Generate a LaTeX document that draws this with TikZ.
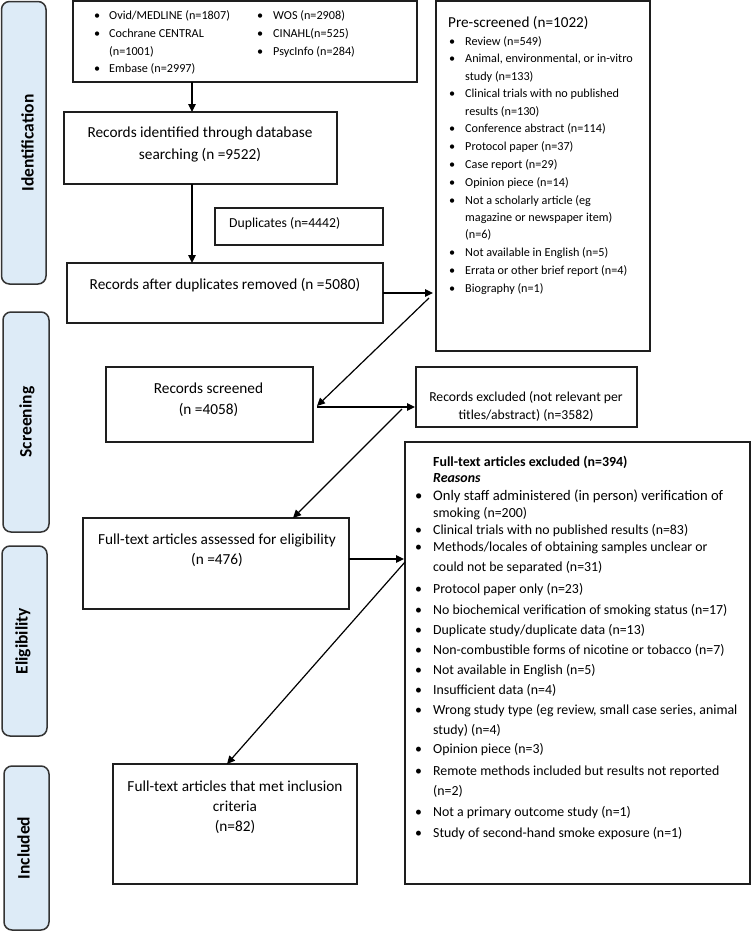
\documentclass[tikz,border=0pt]{standalone}
\usepackage{fontspec}
\setmainfont{Carlito}
\usetikzlibrary{arrows.meta}
\definecolor{sideblue}{RGB}{221,235,247}
\definecolor{edge}{RGB}{30,30,30}
\newcommand\fs[2]{\fontsize{#1}{#2}\selectfont}
\newcommand\bi[2]{\makebox[#1][l]{\textbullet}#2}
\begin{document}
\begin{tikzpicture}[x=1pt,y=-1pt,
 box/.style={draw=edge, line width=1.3pt, inner sep=0pt, outer sep=0pt},
 side/.style={draw=black!80, fill=sideblue, rounded corners=8pt, line width=1.5pt, inner sep=0pt},
 sidelab/.style={rotate=90, inner sep=0pt, font=\fs{17.5}{20}\bfseries, text height=12.5pt, text depth=3.5pt},
 arr/.style={-{Triangle[length=8pt,width=7.5pt]}, line width=1.2pt, draw=black},
 mid/.style={align=center, inner sep=0pt, font=\fs{15.3}{21}},
 lA/.style={anchor=west, inner sep=0pt, font=\fs{12.2}{14}, text height=9.2pt, text depth=2.6pt},
 lB/.style={anchor=west, inner sep=0pt, font=\fs{13.85}{16}, text height=10.4pt, text depth=2.95pt},
 lC/.style={anchor=west, inner sep=0pt, font=\fs{13.7}{16}, text height=10.3pt, text depth=2.9pt},
]
\useasboundingbox (0,0) rectangle (751,932);

% side phase boxes
\node[side, minimum width=44.5pt, minimum height=282.5pt] (sid) at (23.75,142.75) {};
\node[side, minimum width=46pt, minimum height=220pt] (ssc) at (26,422) {};
\node[side, minimum width=45pt, minimum height=190pt] (sel) at (24.5,641) {};
\node[side, minimum width=45pt, minimum height=164pt] (sin) at (26.5,848) {};
\node[sidelab] (sidt) at (29,143) {Identification};
\node[sidelab] (ssct) at (27,422) {Screening};
\node[sidelab] (selt) at (23,641) {Eligibility};
\node[sidelab] (sint) at (25,848) {Included};

% main boxes
\node[box, minimum width=344pt, minimum height=81pt] (db) at (245,41.5) {};
\node[box, minimum width=273pt, minimum height=72pt] (rid) at (200.5,148) {};
\node[box, minimum width=168pt, minimum height=37pt] (dup) at (299,226.5) {};
\node[box, minimum width=316pt, minimum height=60pt] (rad) at (225,293) {};
\node[box, minimum width=214pt, minimum height=350pt] (ps) at (543,176) {};
\node[box, minimum width=207pt, minimum height=75pt] (rs) at (209.5,404.5) {};
\node[box, minimum width=221pt, minimum height=60pt] (rex) at (526.5,397) {};
\node[box, minimum width=266pt, minimum height=91pt] (fta) at (216,563.5) {};
\node[box, minimum width=345pt, minimum height=442pt] (ftx) at (577.5,663) {};
\node[box, minimum width=244pt, minimum height=120pt] (inc) at (235,824) {};

% database list
\node[lA] (db1) at (94,16) {\bi{15pt}{Ovid/MEDLINE (n=1807)}};
\node[lA] (db2) at (94,34) {\bi{15pt}{Cochrane CENTRAL}};
\node[lA] (db3) at (109,52) {(n=1001)};
\node[lA] (db4) at (94,69) {\bi{15pt}{Embase (n=2997)}};
\node[lA] (db5) at (257,16) {\bi{16pt}{WOS (n=2908)}};
\node[lA] (db6) at (257,34) {\bi{16pt}{CINAHL(n=525)}};
\node[lA] (db7) at (257,52) {\bi{16pt}{PsycInfo (n=284)}};

% box texts
\node[mid, font=\fs{15.3}{22}] (ridt) at (200,144) {Records identified through database\\searching (n =9522)};
\node[lC] (dupt) at (229,224) {Duplicates (n=4442)};
\node[mid] (radt) at (225,285) {Records after duplicates removed (n =5080)};
\node[mid, font=\fs{15.3}{21}] (rst) at (208.5,399.5) {Records screened\\(n =4058)};
\node[mid, font=\fs{13.7}{18}] (rext) at (526,406) {Records excluded (not relevant per\\titles/abstract) (n=3582)};
\node[mid, font=\fs{15.3}{20}] (ftat) at (217,550) {Full-text articles assessed for eligibility\\(n =476)};
\node[mid, font=\fs{15.3}{20}] (inct) at (235,807) {Full-text articles that met inclusion\\criteria\\(n=82)};

% pre-screened list
\node[anchor=west, inner sep=0pt, font=\fs{15.2}{18}, text height=11.4pt, text depth=3.3pt] (pst) at (448,23) {Pre-screened (n=1022)};
\node[lA] (ps1) at (449,41.7) {\bi{16pt}{Review (n=549)}};
\node[lA] (ps2) at (449,59.3) {\bi{16pt}{Animal, environmental, or in-vitro}};
\node[lA] (ps3) at (465,76.7) {study (n=133)};
\node[lA] (ps4) at (449,94.3) {\bi{16pt}{Clinical trials with no published}};
\node[lA] (ps5) at (465,111.7) {results (n=130)};
\node[lA] (ps6) at (449,129.3) {\bi{16pt}{Conference abstract (n=114)}};
\node[lA] (ps7) at (449,147) {\bi{16pt}{Protocol paper (n=37)}};
\node[lA] (ps8) at (449,165) {\bi{16pt}{Case report (n=29)}};
\node[lA] (ps9) at (449,183) {\bi{16pt}{Opinion piece (n=14)}};
\node[lA] (ps10) at (449,201) {\bi{16pt}{Not a scholarly article (eg}};
\node[lA] (ps11) at (465,218) {magazine or newspaper item)};
\node[lA] (ps12) at (465,235) {(n=6)};
\node[lA] (ps13) at (449,253) {\bi{16pt}{Not available in English (n=5)}};
\node[lA] (ps14) at (449,271) {\bi{16pt}{Errata or other brief report (n=4)}};
\node[lA] (ps15) at (449,289) {\bi{16pt}{Biography (n=1)}};

% full-text excluded list
\node[lB, font=\fs{13.9}{16}\bfseries] (fth) at (433,463) {Full-text articles excluded (n=394)};
\node[lB, font=\fs{13.9}{16}\bfseries\itshape] (ftr) at (433,479) {Reasons};
\node[lB, font=\fs{14.6}{17}] (fx1) at (415,497) {\bi{18pt}{Only staff administered (in person) verification of}};
\node[lB] (fx2) at (433,514) {smoking (n=200)};
\node[lB] (fx3) at (415,531) {\bi{18pt}{Clinical trials with no published results (n=83)}};
\node[lB] (fx4) at (415,548) {\bi{18pt}{Methods/locales of obtaining samples unclear or}};
\node[lB] (fx5) at (433,568) {could not be separated (n=31)};
\node[lB] (fx6) at (415,590) {\bi{18pt}{Protocol paper only (n=23)}};
\node[lB] (fx7) at (415,611) {\bi{18pt}{No biochemical verification of smoking status (n=17)}};
\node[lB] (fx8) at (415,631) {\bi{18pt}{Duplicate study/duplicate data (n=13)}};
\node[lB] (fx9) at (415,651) {\bi{18pt}{Non-combustible forms of nicotine or tobacco (n=7)}};
\node[lB] (fx10) at (415,671) {\bi{18pt}{Not available in English (n=5)}};
\node[lB] (fx11) at (415,691) {\bi{18pt}{Insufficient data (n=4)}};
\node[lB] (fx12) at (415,711) {\bi{18pt}{Wrong study type (eg review, small case series, animal}};
\node[lB] (fx13) at (433,731) {study) (n=4)};
\node[lB] (fx14) at (415,750) {\bi{18pt}{Opinion piece (n=3)}};
\node[lB] (fx15) at (415,772) {\bi{18pt}{Remote methods included but results not reported}};
\node[lB] (fx16) at (433,792) {(n=2)};
\node[lB] (fx17) at (415,813) {\bi{18pt}{Not a primary outcome study (n=1)}};
\node[lB] (fx18) at (415,834) {\bi{18pt}{Study of second-hand smoke exposure (n=1)}};

% connectors
\coordinate (spine) at (192,0);
\draw[arr] (db.south -| spine) -- (rid.north -| spine);
\draw[arr] (rid.south -| spine) -- (rad.north -| spine);
\draw[arr] (rad.east) -- ([xshift=-3pt]rad.east -| ps.west);
\coordinate (d1a) at (429,298);
\draw[arr] (d1a) -- ([xshift=4pt,yshift=-1.5pt]rs.east);
\draw[arr] ([xshift=4pt,yshift=-2.5pt]rs.east) -- ([xshift=-1pt,yshift=-2.5pt]rs.east -| rex.west);
\coordinate (d2a) at (402,409);
\draw[arr] (d2a) -- ([xshift=77pt]fta.north);
\draw[arr] ([yshift=4.5pt]fta.east) -- ([xshift=-1pt,yshift=4.5pt]fta.east -| ftx.west);
\draw[arr] ([yshift=1.5pt]fta.east -| ftx.west) -- ([xshift=-8pt]inc.north);
\end{tikzpicture}
\end{document}
